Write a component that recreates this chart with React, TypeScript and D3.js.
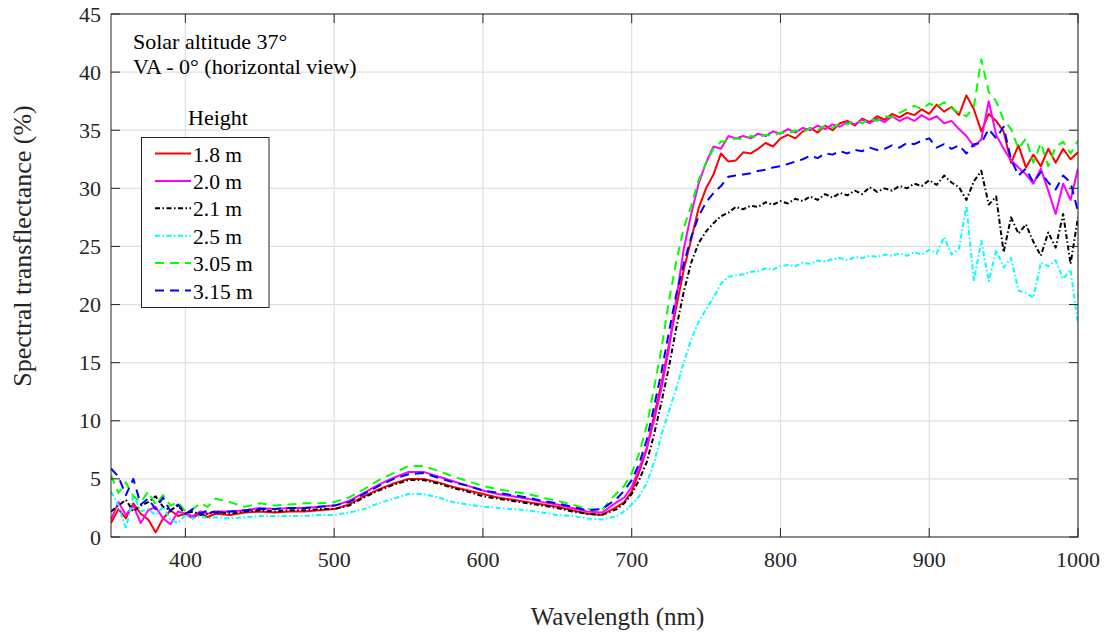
import React from "react";
import * as d3 from "d3";

// Wavelength samples (nm)
const wavelengths: number[] = [
  350, 355, 360, 365, 370, 375, 380, 385, 390, 395, 400, 405, 410, 415, 420,
  430, 440, 450, 460, 470, 480, 490, 500, 510, 520, 530, 540, 550, 560, 570, 580, 590, 600, 610, 620, 630, 640, 650, 660, 670, 680, 690,
  695, 700, 705, 710, 715, 720, 725, 730, 735, 740, 745, 750, 755, 760, 765, 770, 775, 780, 785, 790, 795, 800, 805, 810, 815, 820,
  825, 830, 835, 840, 845, 850, 855, 860, 865, 870, 875, 880, 885, 890, 895, 900, 905, 910, 915, 920, 925, 930, 935, 940, 945, 950,
  955, 960, 965, 970, 975, 980, 985, 990, 995, 1000,
];

const h18: number[] = [
  1.2, 2.4, 1.6, 2.9, 2.0, 1.5, 0.4, 1.6, 2.3, 1.8, 2.0, 1.6, 2.1, 1.7, 2.0,
  1.9, 2.1, 2.2, 2.1, 2.2, 2.2, 2.3, 2.4, 2.8, 3.5, 4.1, 4.6, 5.0, 5.0, 4.7, 4.3, 4.0, 3.7, 3.4, 3.2, 3.0, 2.8, 2.6, 2.3, 2.0, 1.9, 2.6,
  3.0, 3.9, 5.6, 7.5, 10.4, 13.2, 16.5, 19.8, 23.0, 25.6, 28.3, 30.0, 31.2, 33.0, 32.3, 32.4, 33.1, 33.0, 33.4, 33.9, 33.6, 34.3, 34.6, 34.3, 34.9, 35.2,
  34.8, 35.4, 35.0, 35.6, 35.8, 35.4, 36.0, 35.7, 36.2, 35.9, 36.4, 36.1, 36.5, 36.3, 36.8, 36.4, 37.2, 36.6, 37.0, 36.3, 38.0, 36.8, 34.9, 36.4, 35.8, 34.9,
  32.2, 33.7, 31.8, 32.9, 31.9, 33.4, 32.2, 33.4, 32.5, 33.1,
];

const h20: number[] = [
  1.5, 3.0, 1.9, 2.7, 1.2, 2.3, 2.6, 1.6, 1.1, 2.2, 2.0, 1.8, 2.2, 2.0, 2.2,
  2.2, 2.3, 2.5, 2.4, 2.5, 2.5, 2.6, 2.7, 3.1, 3.8, 4.5, 5.1, 5.6, 5.6, 5.2, 4.8, 4.4, 4.0, 3.7, 3.5, 3.3, 3.0, 2.8, 2.5, 2.2, 2.1, 3.0,
  3.4, 4.3, 5.9, 7.6, 10.0, 12.8, 16.2, 20.5, 24.8, 27.8, 30.4, 32.2, 33.6, 33.4, 34.5, 34.3, 34.5, 34.3, 34.7, 34.5, 34.9, 34.7, 35.1, 34.8, 35.2, 35.0,
  35.4, 35.1, 35.5, 35.3, 35.7, 35.5, 35.9, 35.6, 36.0, 35.7, 36.2, 35.8, 36.1, 35.8, 36.3, 35.9, 36.2, 35.6, 35.8, 35.1, 34.5, 33.6, 34.2, 37.5, 34.6, 33.4,
  32.4, 31.8, 31.2, 30.4, 31.7, 29.8, 27.8, 30.4, 29.0, 31.7,
];

const h21: number[] = [
  2.2, 2.7, 3.2, 2.2, 2.7, 3.0, 3.5, 2.6, 2.3, 2.7, 2.0, 2.2, 1.9, 2.0, 2.2,
  2.0, 2.2, 2.3, 2.2, 2.3, 2.3, 2.4, 2.4, 2.7, 3.4, 4.0, 4.5, 4.9, 4.9, 4.6, 4.2, 3.9, 3.5, 3.3, 3.1, 2.9, 2.7, 2.5, 2.2, 2.0, 1.9, 2.4,
  2.9, 3.7, 4.9, 6.4, 8.8, 11.6, 14.6, 18.0, 21.1, 23.6, 25.3, 26.3, 27.0, 27.6, 27.9, 28.4, 28.2, 28.5, 28.4, 28.8, 28.6, 28.9, 28.7, 29.1, 28.9, 29.3,
  29.0, 29.5, 29.2, 29.6, 29.4, 29.8, 29.5, 30.1, 29.7, 30.0, 29.8, 30.2, 30.0, 30.4, 30.2, 30.7, 30.3, 31.1, 30.5, 30.1, 29.0, 30.6, 31.5, 28.6, 29.3, 24.5,
  27.5, 26.1, 26.9, 25.4, 24.2, 26.2, 24.9, 27.8, 23.5, 27.5,
];

const h25: number[] = [
  3.9, 2.7, 0.7, 3.6, 2.2, 2.4, 1.9, 2.6, 1.5, 1.2, 1.9, 1.6, 1.8, 1.6, 1.7,
  1.6, 1.7, 1.8, 1.8, 1.8, 1.8, 1.9, 1.9, 2.1, 2.4, 2.9, 3.3, 3.7, 3.7, 3.4, 3.0, 2.8, 2.6, 2.5, 2.4, 2.3, 2.1, 1.9, 1.8, 1.6, 1.5, 1.8,
  2.2, 2.8, 3.5, 4.6, 6.4, 8.8, 10.8, 12.8, 15.0, 17.0, 18.5, 19.6, 20.6, 21.8, 22.4, 22.5, 22.6, 22.8, 22.9, 23.1, 23.0, 23.3, 23.4, 23.3, 23.6, 23.5,
  23.8, 23.7, 23.9, 24.0, 23.8, 24.1, 24.0, 24.2, 24.1, 24.3, 24.2, 24.4, 24.2, 24.5, 24.3, 24.7, 24.4, 25.8, 24.3, 24.8, 28.5, 22.0, 25.5, 22.0, 24.7, 23.2,
  24.0, 21.2, 21.0, 20.6, 23.6, 23.3, 23.8, 22.2, 23.0, 18.3,
];

const h305: number[] = [
  5.3, 3.8, 4.7, 3.5, 3.0, 3.9, 2.8, 3.6, 2.7, 3.0, 2.2, 2.4, 2.9, 2.6, 3.3,
  3.0, 2.6, 2.9, 2.7, 2.8, 2.9, 2.9, 3.0, 3.4, 4.1, 4.9, 5.5, 6.1, 6.1, 5.7, 5.2, 4.8, 4.4, 4.1, 3.9, 3.7, 3.4, 3.1, 2.8, 2.4, 2.3, 3.8,
  4.4, 5.5, 7.2, 9.5, 12.8, 16.2, 20.3, 23.7, 26.6, 28.5, 30.7, 32.2, 33.4, 34.0, 34.1, 34.3, 34.2, 34.5, 34.4, 34.6, 34.5, 34.8, 34.7, 35.0, 34.8, 35.2,
  35.0, 35.4, 35.2, 35.6, 35.5, 35.8, 35.6, 36.0, 35.8, 36.2, 36.1, 36.5, 36.8, 37.1, 36.8, 37.3, 37.0, 37.4, 36.9, 36.5, 36.2, 37.0, 41.1, 38.3, 37.5, 35.9,
  35.1, 33.4, 34.3, 32.2, 33.9, 31.9, 33.6, 34.0, 33.0, 34.1,
];

const h315: number[] = [
  5.9, 5.2, 3.6, 5.0, 2.8, 3.3, 2.4, 3.4, 2.2, 2.8, 2.0, 2.4, 2.0, 2.3, 2.1,
  2.2, 2.3, 2.4, 2.4, 2.5, 2.5, 2.6, 2.7, 3.0, 3.7, 4.4, 5.0, 5.4, 5.5, 5.1, 4.7, 4.4, 4.0, 3.8, 3.6, 3.4, 3.1, 2.9, 2.6, 2.3, 2.4, 3.3,
  4.0, 4.9, 6.3, 8.3, 11.2, 14.2, 17.6, 20.9, 23.5, 25.8, 27.6, 28.8, 29.6, 30.2, 31.0, 31.1, 31.2, 31.3, 31.5, 31.6, 31.8, 31.9, 32.1, 32.3, 32.5, 32.8,
  32.6, 33.0, 32.9, 33.2, 33.0, 33.3, 33.2, 33.5, 33.3, 33.4, 33.7, 33.5, 33.9, 33.8, 34.1, 34.3, 33.5, 33.8, 33.4, 33.7, 33.0, 33.8, 33.9, 35.1, 34.3, 35.3,
  32.5, 31.1, 31.7, 30.5, 31.4, 30.5, 29.9, 31.1, 30.5, 28.0,
];

const seriesLabels: string[] = ["1.8 m", "2.0 m", "2.1 m", "2.5 m", "3.05 m", "3.15 m"];
const seriesValues: number[][] = [h18, h20, h21, h25, h305, h315];
const seriesColors: string[] = ["#ff0000", "#ff00ff", "#000000", "#00ffff", "#00ff00", "#0000ff"];
const seriesDash: string[] = ["", "", "5,2.5,1.5,2.5", "5,2.5,1.5,2.5", "9,6", "9,6"];

const xTicks: number[] = [400, 500, 600, 700, 800, 900, 1000];
const yTicks: number[] = [0, 5, 10, 15, 20, 25, 30, 35, 40, 45];

const W = 1108;
const H = 632;
const M = { left: 111, right: 1078, top: 14, bottom: 537 };
const FONT = "Liberation Serif, Tinos, Times New Roman, DejaVu Serif, serif";

export default function App() {
  const x = d3.scaleLinear().domain([350, 1000]).range([M.left, M.right]);
  const y = d3.scaleLinear().domain([0, 45]).range([M.bottom, M.top]);
  const axisColor = "#262626";
  const gridColor = "#e0e0e0";
  const tickLen = 9;

  const lineGen = (vals: number[]) =>
    d3
      .line<number>()
      .x((_, i) => x(wavelengths[i]))
      .y((v) => y(v))(vals) || "";

  const legend = { x: 141.5, y: 137.5, w: 127.5, h: 170, rowH: 27.4, first: 153.5 };
  const txt = { fontFamily: FONT } as React.CSSProperties;

  return (
    <svg
      width={W}
      height={H}
      style={{ position: "absolute", left: 0, top: 0, background: "#fff", fontFamily: FONT }}
    >
      <defs>
        <clipPath id="plotClip">
          <rect x={M.left} y={M.top} width={M.right - M.left} height={M.bottom - M.top} />
        </clipPath>
      </defs>
      <rect x={0} y={0} width={W} height={H} fill="#fff" />
      {xTicks.map((t) => (
        <line key={"gx" + t} x1={x(t)} x2={x(t)} y1={M.top} y2={M.bottom} stroke={gridColor} strokeWidth={1.2} />
      ))}
      {yTicks.map((t) => (
        <line key={"gy" + t} x1={M.left} x2={M.right} y1={y(t)} y2={y(t)} stroke={gridColor} strokeWidth={1.2} />
      ))}
      <g clipPath="url(#plotClip)">
        {seriesValues.map((vals, i) => (
          <path
            key={"s" + i}
            d={lineGen(vals)}
            fill="none"
            stroke={seriesColors[i]}
            strokeWidth={2}
            strokeDasharray={seriesDash[i] || undefined}
            strokeLinejoin="round"
          />
        ))}
      </g>
      <rect
        x={M.left}
        y={M.top}
        width={M.right - M.left}
        height={M.bottom - M.top}
        fill="none"
        stroke={axisColor}
        strokeWidth={1}
      />
      {xTicks.map((t) => (
        <g key={"tx" + t}>
          <line x1={x(t)} x2={x(t)} y1={M.bottom} y2={M.bottom - tickLen} stroke={axisColor} />
          <line x1={x(t)} x2={x(t)} y1={M.top} y2={M.top + tickLen} stroke={axisColor} />
          <text style={txt} x={x(t)} y={M.bottom + 30} textAnchor="middle" fontSize={22} fill="#262626">
            {t}
          </text>
        </g>
      ))}
      {yTicks.map((t) => (
        <g key={"ty" + t}>
          <line x1={M.left} x2={M.left + tickLen} y1={y(t)} y2={y(t)} stroke={axisColor} />
          <line x1={M.right} x2={M.right - tickLen} y1={y(t)} y2={y(t)} stroke={axisColor} />
          <text style={txt} x={M.left - 10} y={y(t) + 7.5} textAnchor="end" fontSize={22} fill="#262626">
            {t}
          </text>
        </g>
      ))}
      <text style={txt} x={(M.left + M.right) / 2 + 23} y={625} textAnchor="middle" fontSize={25} fill="#262626">
        Wavelength (nm)
      </text>
      <text
        style={txt}
        transform={`translate(31, 246) rotate(-90)`}
        textAnchor="middle"
        fontSize={26}
        fill="#262626"
      >
        Spectral transflectance (%)
      </text>
      <text style={txt} x={133} y={49} fontSize={22} fill="#000">
        Solar altitude 37°
      </text>
      <text style={txt} x={133} y={74} fontSize={22} fill="#000">
        VA - 0° (horizontal view)
      </text>
      <text style={txt} x={188} y={125} fontSize={22} fill="#000">
        Height
      </text>
      <rect x={legend.x} y={legend.y} width={legend.w} height={legend.h} fill="#fff" stroke="#262626" strokeWidth={1} />
      {seriesLabels.map((lab, i) => {
        const cy = legend.first + i * legend.rowH;
        return (
          <g key={"lg" + i}>
            <line
              x1={155}
              x2={191}
              y1={cy}
              y2={cy}
              stroke={seriesColors[i]}
              strokeWidth={2}
              strokeDasharray={seriesDash[i] || undefined}
            />
            <text style={txt} x={193} y={cy + 8} fontSize={21.5} fill="#000">
              {lab}
            </text>
          </g>
        );
      })}
    </svg>
  );
}
